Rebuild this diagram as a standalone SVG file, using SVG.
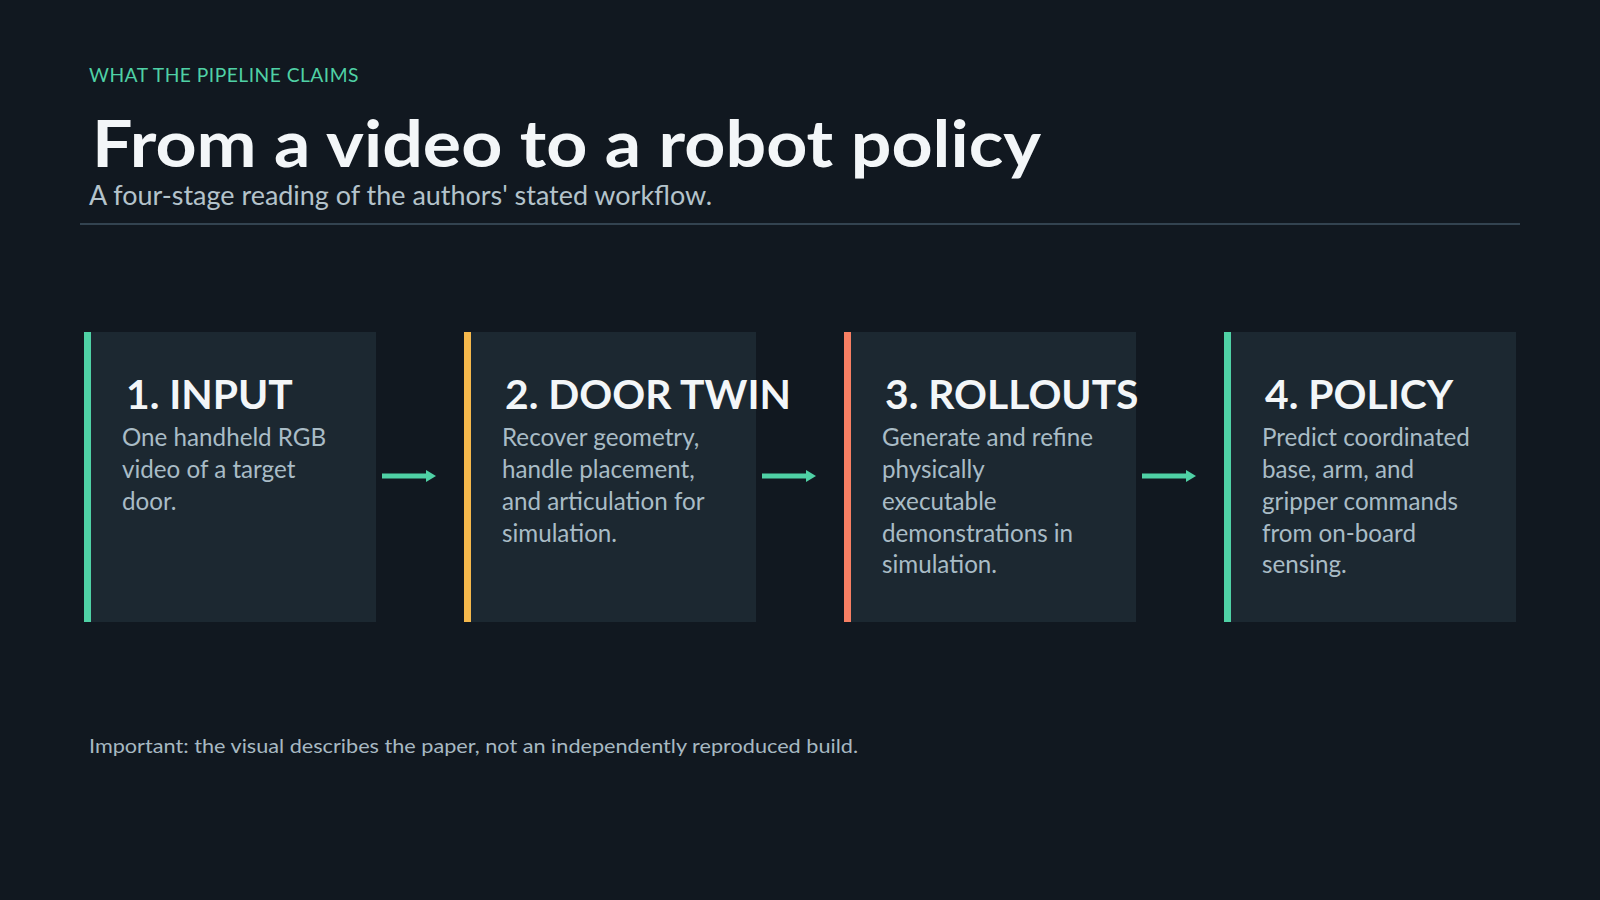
<svg xmlns="http://www.w3.org/2000/svg" width="1600" height="900" viewBox="0 0 1600 900">
<defs>
<style>
.bg{fill:#111820}
.box{fill:#1c2831}
.kick{font-family:Lato,"Noto Sans",sans-serif;font-size:20px;fill:#4fd1a5;letter-spacing:0.5px}
.title{font-family:Lato,"Noto Sans",sans-serif;font-weight:700;font-size:65px;fill:#f3f6f8}
.sub{font-family:Lato,"Noto Sans",sans-serif;font-size:27px;fill:#b4c3cb}
.h{font-family:Lato,"Noto Sans",sans-serif;font-weight:700;font-size:40.8px;fill:#f3f6f8}
.b{font-family:Lato,"Noto Sans",sans-serif;font-size:24.2px;fill:#a9bcc6}
.foot{font-family:Lato,"Noto Sans",sans-serif;font-size:20px;fill:#a7b8c2}
.conn{stroke:#4fd1a5;stroke-width:5;fill:none}
</style>
<marker id="ah" markerWidth="10" markerHeight="12" refX="0" refY="6" orient="auto" markerUnits="userSpaceOnUse">
<path d="M0,0 L10,6 L0,12 Z" fill="#4fd1a5"/>
</marker>
</defs>
<rect class="bg" x="0" y="0" width="1600" height="900"/>
<g id="header">
<text class="kick" x="89" y="82" textLength="270" lengthAdjust="spacingAndGlyphs">WHAT THE PIPELINE CLAIMS</text>
<text class="title" x="92" y="167" textLength="949" lengthAdjust="spacingAndGlyphs">From a video to a robot policy</text>
<text class="sub" x="89" y="205" textLength="623" lengthAdjust="spacingAndGlyphs">A four-stage reading of the authors' stated workflow.</text>
<rect x="80" y="223" width="1440" height="2" fill="#334350"/>
</g>
<g id="stage1">
<rect class="box" x="84" y="332" width="292" height="290"/>
<rect x="84" y="332" width="7" height="290" fill="#4fd1a5"/>
<text class="h" x="126" y="409">1. INPUT</text>
<text class="b" x="122" y="446">One handheld RGB</text>
<text class="b" x="122" y="478">video of a target</text>
<text class="b" x="122" y="510">door.</text>
</g>
<g id="stage2">
<rect class="box" x="464" y="332" width="292" height="290"/>
<rect x="464" y="332" width="7" height="290" fill="#f5b84c"/>
<text class="h" x="505" y="409">2. DOOR TWIN</text>
<text class="b" x="502" y="446">Recover geometry,</text>
<text class="b" x="502" y="478">handle placement,</text>
<text class="b" x="502" y="510">and articulation for</text>
<text class="b" x="502" y="542">simulation.</text>
</g>
<g id="stage3">
<rect class="box" x="844" y="332" width="292" height="290"/>
<rect x="844" y="332" width="7" height="290" fill="#f77f63"/>
<text class="h" x="885" y="409">3. ROLLOUTS</text>
<text class="b" x="882" y="446">Generate and refine</text>
<text class="b" x="882" y="478">physically</text>
<text class="b" x="882" y="510">executable</text>
<text class="b" x="882" y="542">demonstrations in</text>
<text class="b" x="882" y="573">simulation.</text>
</g>
<g id="stage4">
<rect class="box" x="1224" y="332" width="292" height="290"/>
<rect x="1224" y="332" width="7" height="290" fill="#4fd1a5"/>
<text class="h" x="1265" y="409">4. POLICY</text>
<text class="b" x="1262" y="446">Predict coordinated</text>
<text class="b" x="1262" y="478">base, arm, and</text>
<text class="b" x="1262" y="510">gripper commands</text>
<text class="b" x="1262" y="542">from on-board</text>
<text class="b" x="1262" y="573">sensing.</text>
</g>
<g id="connectors">
<line class="conn" x1="382" y1="476" x2="426" y2="476" marker-end="url(#ah)"/>
<line class="conn" x1="762" y1="476" x2="806" y2="476" marker-end="url(#ah)"/>
<line class="conn" x1="1142" y1="476" x2="1186" y2="476" marker-end="url(#ah)"/>
</g>
<text class="foot" x="89" y="753" textLength="769" lengthAdjust="spacingAndGlyphs">Important: the visual describes the paper, not an independently reproduced build.</text>
</svg>
